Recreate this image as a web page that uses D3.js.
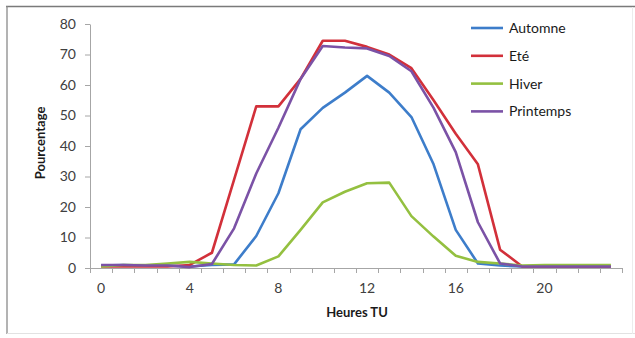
<!DOCTYPE html>
<html>
<head>
<meta charset="utf-8">
<script src="https://cdn.jsdelivr.net/npm/d3@7"></script>
<style>
body { margin: 0; background: #fff; }
text { font-family: Lato, "Open Sans", sans-serif; }
</style>
</head>
<body>
<div id="chart"></div>
<script>
// data
const hours = d3.range(0, 24)
const seriesNames = ["Automne", "Eté", "Hiver", "Printemps"]
const seriesColors = ["#3D7DCA", "#D2303A", "#94C040", "#7B52A6"]
const automne = [0.8, 1, 0.8, 0.8, 0.5, 1, 1.2, 10.5, 24.5, 45.5, 52.5, 57.5, 63, 57.5, 49.5, 34, 12.5, 1.5, 0.8, 0.5, 0.5, 0.5, 0.5, 0.5]
const ete = [0.5, 0.5, 0.5, 0.5, 1, 5, 29, 53, 53, 62, 74.5, 74.5, 72.5, 70, 65.5, 55, 44, 34, 6, 0.5, 0.5, 0.5, 0.5, 0.5]
const hiver = [0.5, 1, 1, 1.5, 2, 1.5, 1, 0.8, 3.8, 12.5, 21.5, 25, 27.8, 28, 17, 10.3, 4, 2, 1.5, 0.8, 1, 1, 1, 1]
const printemps = [1, 1, 0.8, 0.8, 0.3, 1.3, 13, 31, 46, 62, 72.8, 72.3, 72, 69.5, 64.5, 52.5, 38, 15, 1.5, 0.5, 0.5, 0.5, 0.5, 0.5]
const allSeries = [automne, ete, hiver, printemps]
const yTicks = [0, 10, 20, 30, 40, 50, 60, 70, 80]
const xTickLabels = [0, 4, 8, 12, 16, 20]

const W = 635, H = 338
const margin = {top: 24, right: 13, bottom: 70, left: 90}
const width = 622 - margin.left
const height = 268 - margin.top

const svg = d3.select("#chart").append("svg")
  .attr("width", W)
  .attr("height", H)

// outer frame: dark top and left, faint bottom and right
svg.append("line")
  .attr("x1", 6).attr("x2", W).attr("y1", 6.5).attr("y2", 6.5)
  .attr("stroke", "#7a7a7a").attr("stroke-width", 1.3)
svg.append("line")
  .attr("x1", 7).attr("x2", 7).attr("y1", 6).attr("y2", 334)
  .attr("stroke", "#8a8a8a").attr("stroke-width", 1.3)
svg.append("line")
  .attr("x1", 7).attr("x2", W).attr("y1", 333.5).attr("y2", 333.5)
  .attr("stroke", "#e2e2e2")
svg.append("line")
  .attr("x1", 632.5).attr("x2", 632.5).attr("y1", 7).attr("y2", 334)
  .attr("stroke", "#ececec")

const g = svg.append("g")
  .attr("transform", "translate(" + margin.left + "," + margin.top + ")")

const x = d3.scaleBand()
  .domain(hours)
  .range([0, width])

const y = d3.scaleLinear()
  .domain([0, 80])
  .range([height, 0])

// y axis
const yAxis = d3.axisLeft(y)
  .tickValues(yTicks)
  .tickSize(5)
  .tickPadding(9)
g.append("g")
  .attr("class", "y axis")
  .call(yAxis)
  .call(a => a.selectAll("line, path").attr("stroke", "#a6a6a6"))
  .call(a => a.select(".domain").attr("d", "M0.5," + height + "V0.5"))
  .call(a => a.selectAll("text").style("font-size", "14px").attr("fill", "#404040"))

// x axis: ticks at category boundaries, labels every 4 hours
g.append("line")
  .attr("x1", 0).attr("x2", width)
  .attr("y1", height + 0.5).attr("y2", height + 0.5)
  .attr("stroke", "#a6a6a6")
g.selectAll("line.xtick")
  .data(d3.range(0, 25))
  .enter().append("line")
  .attr("class", "xtick")
  .attr("x1", d => Math.round(d * x.step()) + 0.5)
  .attr("x2", d => Math.round(d * x.step()) + 0.5)
  .attr("y1", height)
  .attr("y2", height + 5)
  .attr("stroke", "#a6a6a6")
g.selectAll("text.xlab")
  .data(xTickLabels)
  .enter().append("text")
  .attr("class", "xlab")
  .attr("x", d => x(d) + x.bandwidth() / 2)
  .attr("y", height + 25)
  .attr("text-anchor", "middle")
  .style("font-size", "14px")
  .attr("fill", "#404040")
  .text(d => d)

// lines
const line = d3.line()
  .x((d, i) => x(hours[i]) + x.bandwidth() / 2)
  .y(d => y(d))
allSeries.forEach((s, i) => {
  g.append("path")
    .datum(s)
    .attr("fill", "none")
    .attr("stroke", seriesColors[i])
    .attr("stroke-width", 2.6)
    .attr("stroke-linejoin", "round")
    .attr("d", line)
})

// axis titles
svg.append("text")
  .attr("x", 357)
  .attr("y", 317)
  .attr("text-anchor", "middle")
  .style("font-size", "13px")
  .style("font-weight", "bold")
  .attr("fill", "#1a1a1a")
  .text("Heures TU")
svg.append("text")
  .attr("transform", "translate(45,143) rotate(-90)")
  .attr("text-anchor", "middle")
  .style("font-size", "13px")
  .style("font-weight", "bold")
  .attr("fill", "#1a1a1a")
  .text("Pourcentage")

// legend
const legend = svg.selectAll(".legend")
  .data(seriesNames)
  .enter().append("g")
  .attr("class", "legend")
  .attr("transform", (d, i) => "translate(471," + (28 + i * 27.8) + ")")
legend.append("line")
  .attr("x1", 0).attr("x2", 32)
  .attr("stroke", (d, i) => seriesColors[i])
  .attr("stroke-width", 2.6)
legend.append("text")
  .attr("x", 38)
  .attr("dy", "0.35em")
  .style("font-size", "14px")
  .attr("fill", "#1a1a1a")
  .text(d => d)
</script>
</body>
</html>
